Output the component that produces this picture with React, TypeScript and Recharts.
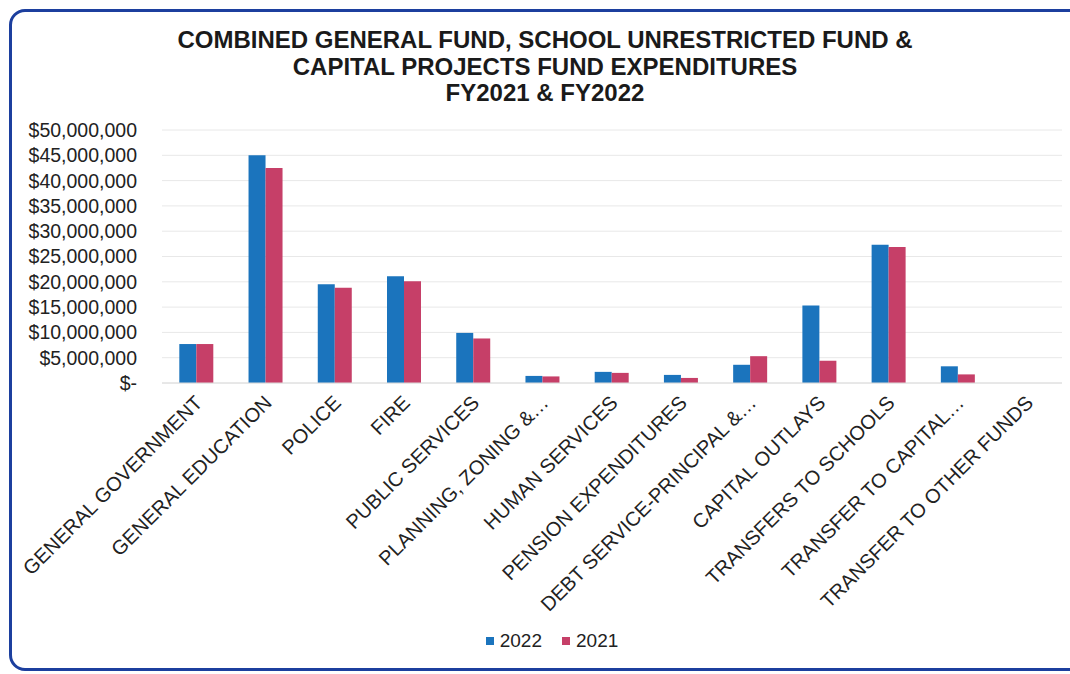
import { BarChart, Bar, XAxis, YAxis, CartesianGrid, Legend } from "recharts";

const categories = [
  "GENERAL GOVERNMENT",
  "GENERAL EDUCATION",
  "POLICE",
  "FIRE",
  "PUBLIC SERVICES",
  "PLANNING, ZONING &…",
  "HUMAN SERVICES",
  "PENSION EXPENDITURES",
  "DEBT SERVICE-PRINCIPAL &…",
  "CAPITAL OUTLAYS",
  "TRANSFERS TO SCHOOLS",
  "TRANSFER TO CAPITAL…",
  "TRANSFER TO OTHER FUNDS",
];

const fy2022 = [
  7700000, 45000000, 19500000, 21100000, 9900000, 1400000, 2200000, 1600000,
  3600000, 15300000, 27300000, 3300000, 0,
];

const fy2021 = [
  7700000, 42500000, 18800000, 20100000, 8800000, 1300000, 2000000, 1000000,
  5300000, 4400000, 26900000, 1700000, 0,
];

const yTicks = [0, 5000000, 10000000, 15000000, 20000000, 25000000, 30000000, 35000000, 40000000, 45000000, 50000000];

const titleLines = [
  "COMBINED GENERAL FUND, SCHOOL UNRESTRICTED FUND &",
  "CAPITAL PROJECTS FUND EXPENDITURES",
  "FY2021 & FY2022",
];

const BLUE = "#1b74bd";
const RED = "#c63f68";
const FONT = "'Liberation Sans', Arial, sans-serif";

const data = categories.map((name, i) => ({
  name,
  y2022: fy2022[i],
  y2021: fy2021[i],
}));

const formatMoney = (v: number) =>
  v === 0 ? "$-" : "$" + v.toLocaleString("en-US");

const AngledTick = ({ x, y, payload }: any) => (
  <text
    x={x + 7}
    y={y + 13}
    transform={`rotate(-45, ${x + 7}, ${y + 13})`}
    textAnchor="end"
    fontSize={20}
    fontFamily={FONT}
    fill="#222"
  >
    {payload.value}
  </text>
);

const LegendBox = () => (
  <div
    style={{
      display: "flex",
      justifyContent: "center",
      gap: 20,
      paddingLeft: 42,
      fontFamily: FONT,
      fontSize: 19,
      color: "#222",
    }}
  >
    {[
      { label: "2022", color: BLUE },
      { label: "2021", color: RED },
    ].map((it) => (
      <div key={it.label} style={{ display: "flex", alignItems: "center", gap: 6 }}>
        <span style={{ width: 8, height: 8, background: it.color, display: "inline-block" }} />
        <span>{it.label}</span>
      </div>
    ))}
  </div>
);

export default function App() {
  return (
    <div
      style={{
        position: "fixed",
        left: 0,
        top: 0,
        width: 1070,
        height: 674,
        overflow: "hidden",
        background: "#fff",
      }}
    >
      <div
        style={{
          position: "absolute",
          left: 9,
          top: 9,
          width: 1090,
          height: 662,
          border: "3px solid #1c3f9e",
          borderRadius: 16,
          boxSizing: "border-box",
        }}
      />
      <div
        style={{
          position: "absolute",
          left: 0,
          top: 27,
          width: 1090,
          textAlign: "center",
          fontFamily: FONT,
          fontWeight: "bold",
          fontSize: 24,
          lineHeight: "26.5px",
          color: "#1a1a1a",
        }}
      >
        {titleLines.map((t) => (
          <div key={t}>{t}</div>
        ))}
      </div>
      <div style={{ position: "absolute", left: 0, top: 0 }}>
        <BarChart
          width={1070}
          height={674}
          data={data}
          margin={{ top: 130, right: 8, left: 0, bottom: 12 }}
          barGap={0}
          barCategoryGap="25%"
        >
          <CartesianGrid vertical={false} stroke="#e8e8e8" />
          <XAxis
            dataKey="name"
            interval={0}
            height={247}
            tick={<AngledTick />}
            tickLine={false}
            axisLine={{ stroke: "#dcdcdc" }}
          />
          <YAxis
            width={162}
            domain={[0, 50000000]}
            ticks={yTicks}
            interval={0}
            tickFormatter={formatMoney}
            axisLine={false}
            tickLine={false}
            tickMargin={19}
            tick={{ fontSize: 19.5, fontFamily: FONT, fill: "#222" }}
          />
          <Legend verticalAlign="bottom" height={32} content={<LegendBox />} />
          <Bar dataKey="y2022" name="2022" fill={BLUE} isAnimationActive={false} />
          <Bar dataKey="y2021" name="2021" fill={RED} isAnimationActive={false} />
        </BarChart>
      </div>
    </div>
  );
}
